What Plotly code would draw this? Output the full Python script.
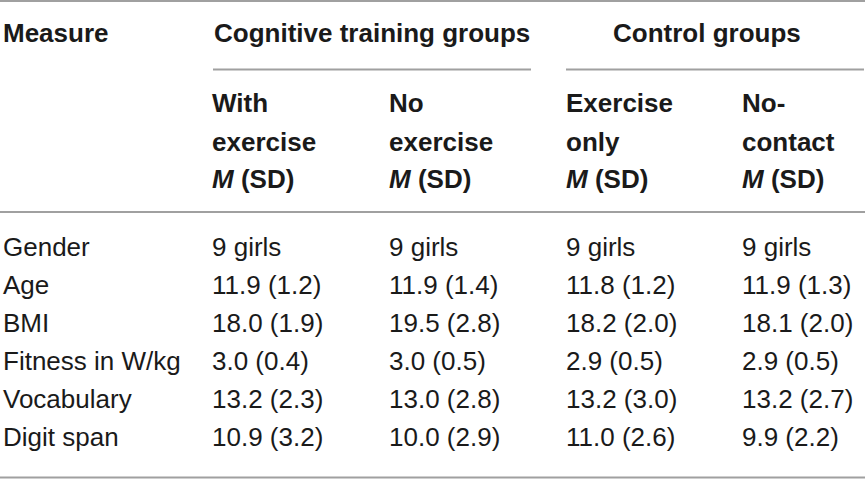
import plotly.graph_objects as go

# table contents
measures = ["Gender", "Age", "BMI", "Fitness in W/kg", "Vocabulary", "Digit span"]
group_heads = ["Cognitive training groups", "Control groups"]
sub_heads = [["With", "exercise"], ["No", "exercise"], ["Exercise", "only"], ["No-", "contact"]]
girls = [9, 9, 9, 9]
age_m = [11.9, 11.9, 11.8, 11.9]
age_sd = [1.2, 1.4, 1.2, 1.3]
bmi_m = [18.0, 19.5, 18.2, 18.1]
bmi_sd = [1.9, 2.8, 2.0, 2.0]
fit_m = [3.0, 3.0, 2.9, 2.9]
fit_sd = [0.4, 0.5, 0.5, 0.5]
voc_m = [13.2, 13.0, 13.2, 13.2]
voc_sd = [2.3, 2.8, 3.0, 2.7]
dig_m = [10.9, 10.0, 11.0, 9.9]
dig_sd = [3.2, 2.9, 2.6, 2.2]

rows = [[f"{g} girls" for g in girls]]
for m, s in [(age_m, age_sd), (bmi_m, bmi_sd), (fit_m, fit_sd), (voc_m, voc_sd), (dig_m, dig_sd)]:
    rows.append([f"{a:.1f} ({b:.1f})" for a, b in zip(m, s)])

# layout in pixels
col_x = [212, 389, 566, 742]
row_y = [247, 285, 323, 361, 399, 437]
FONT = "Liberation Sans, Arial, sans-serif"
TXT = "#1a1a1a"
RULE = "#a0a0a0"

fig = go.Figure()
fig.add_trace(go.Scatter(x=[0, 865], y=[0, 480], mode="markers",
                         marker=dict(opacity=0), hoverinfo="skip", showlegend=False))

ann = []

def put(x, y, text, bold=False):
    if bold:
        text = "<b>" + text + "</b>"
    ann.append(dict(x=x - 2, y=y, text=text, xanchor="left", yanchor="middle",
                    showarrow=False, font=dict(family=FONT, size=26, color=TXT)))

put(3, 33, "Measure", bold=True)
put(214, 33, group_heads[0], bold=True)
put(613, 33, group_heads[1], bold=True)
for cx, (l1, l2) in zip(col_x, sub_heads):
    put(cx, 103, l1, bold=True)
    put(cx, 142, l2, bold=True)
    put(cx, 179, "<i>M</i> (SD)", bold=True)

for ry, name, vals in zip(row_y, measures, rows):
    put(3, ry, name)
    for cx, v in zip(col_x, vals):
        put(cx, ry, v)

shapes = []
def rule(x0, x1, y):
    shapes.append(dict(type="line", x0=x0, x1=x1, y0=y, y1=y,
                       line=dict(color=RULE, width=2)))

rule(0, 865, 1)
rule(213, 531, 69.5)
rule(566, 864, 69.5)
rule(0, 865, 212)
rule(0, 865, 477.5)

fig.update_layout(
    width=865, height=480,
    margin=dict(l=0, r=0, t=0, b=0),
    paper_bgcolor="white", plot_bgcolor="white",
    xaxis=dict(range=[0, 865], visible=False, fixedrange=True),
    yaxis=dict(range=[480, 0], visible=False, fixedrange=True),
    annotations=ann, shapes=shapes,
    showlegend=False,
)

# drop the default page margin so the table sits at the window corner
fig.write_html("out.html", config={"displayModeBar": False},
               post_script="document.body.style.margin='0';")
